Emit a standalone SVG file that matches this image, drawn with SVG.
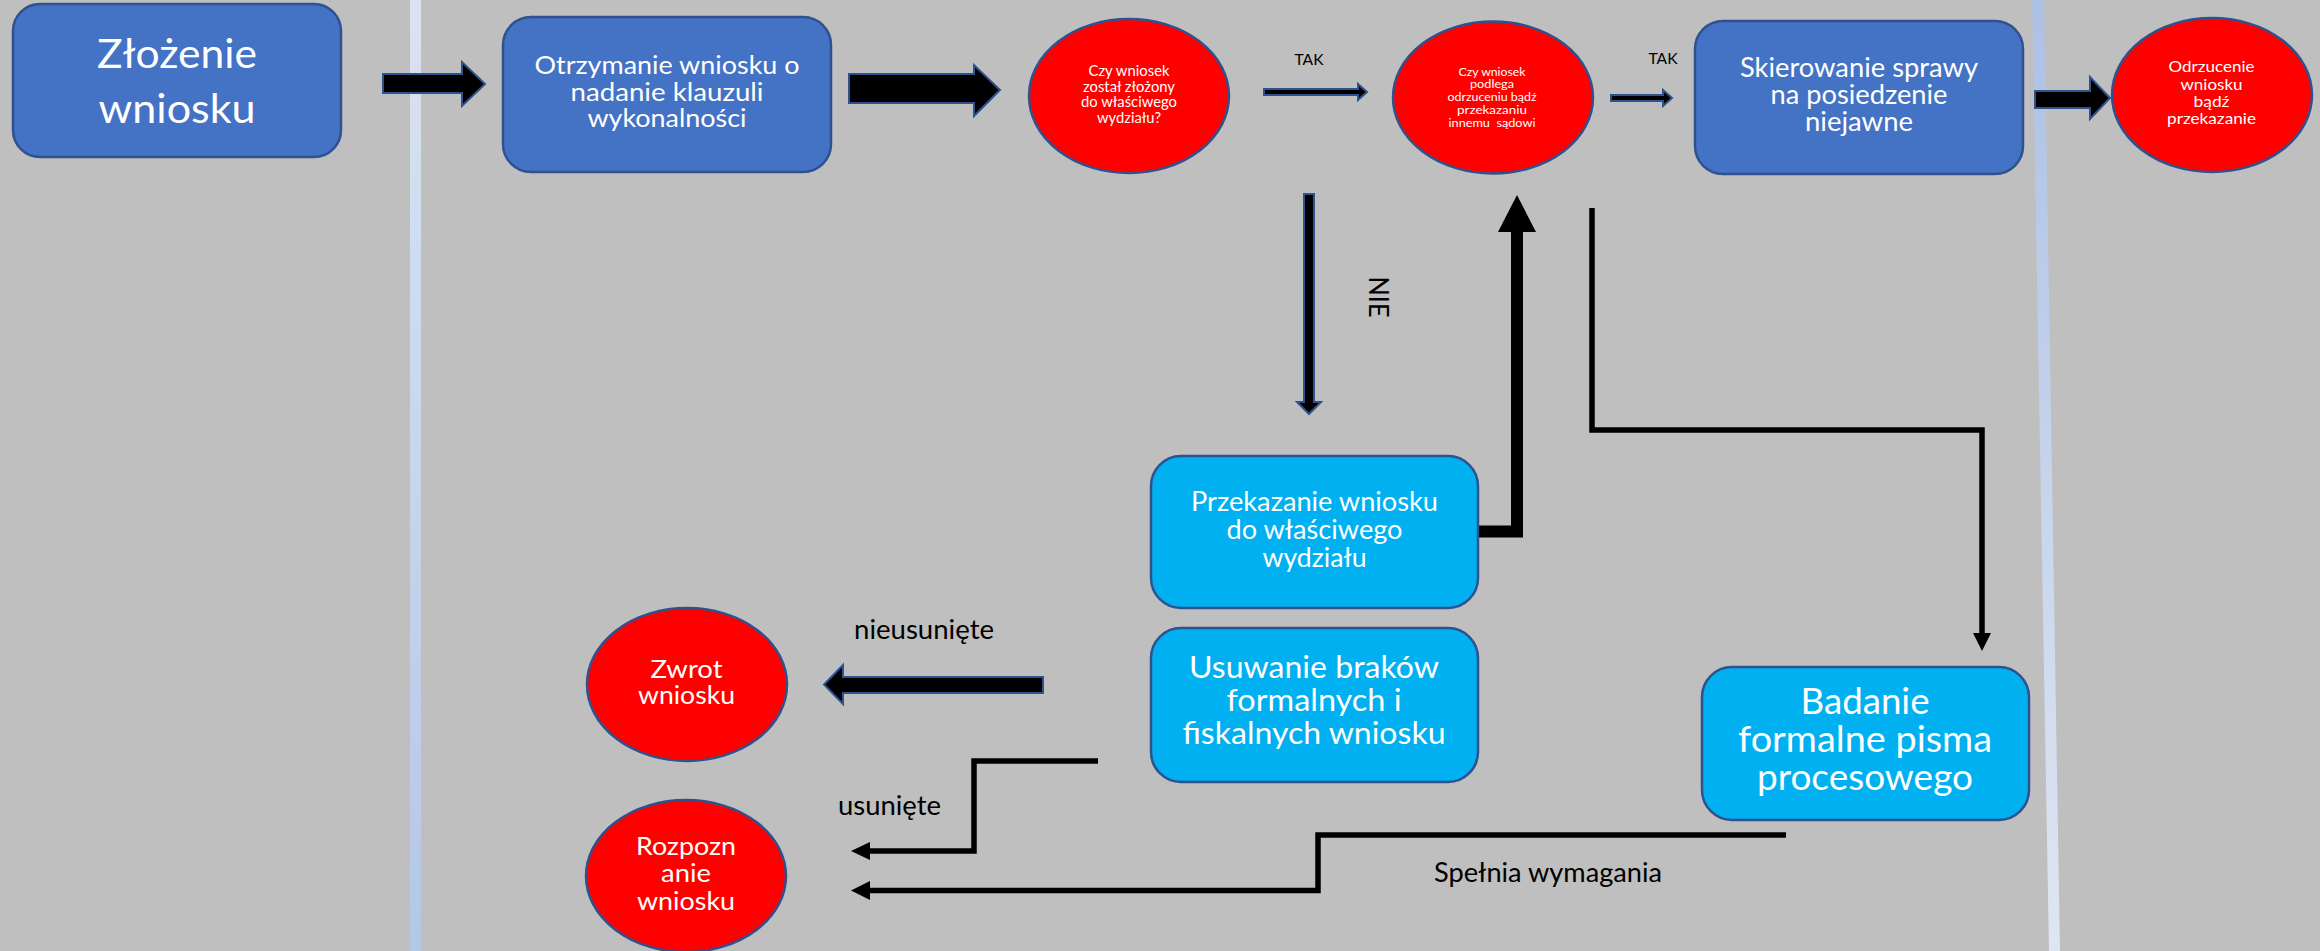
<svg xmlns="http://www.w3.org/2000/svg" width="2320" height="951" viewBox="0 0 2320 951">
<style>
.bx{fill:#4472c4;stroke:#2f528f;stroke-width:2.5}
.lb{fill:#00b0f0;stroke:#2f528f;stroke-width:2.5}
.el{fill:#ff0000;stroke:#2f528f;stroke-width:2.5}
.ba{fill:#000;stroke:#2f528f;stroke-width:2;stroke-linejoin:miter}
.ln{fill:none;stroke:#000;stroke-linejoin:miter}
.hd{fill:#000}
text{font-family:Lato,"Open Sans","Liberation Sans",sans-serif;text-anchor:middle}
.w{fill:#fff}
.k{fill:#000}
</style>
<defs>
<linearGradient id="gl" x1="0" y1="0" x2="0" y2="1">
<stop offset="0" stop-color="#dae3f3"/>
<stop offset="1" stop-color="#b4c7e7"/>
</linearGradient>
<linearGradient id="gr" x1="0" y1="0" x2="0" y2="1">
<stop offset="0" stop-color="#adc1e5"/>
<stop offset="1" stop-color="#dfe6f2"/>
</linearGradient>
</defs>
<rect x="0" y="0" width="2320" height="951" fill="#bfbfbf"/>
<rect x="410" y="0" width="11" height="951" fill="url(#gl)"/>
<polygon points="2032,0 2044,0 2060,951 2049,951" fill="url(#gr)"/>

<g id="connectors">
<polygon class="ba" points="383,74 462,74 462,62 485,84 462,106 462,93 383,93"/>
<polygon class="ba" points="849,74 974,74 974,65 1000,90 974,116 974,103 849,103"/>
<polygon class="ba" points="1264,89 1358,89 1358,84 1367,92 1358,100 1358,95 1264,95"/>
<polygon class="ba" points="1611,95 1663,95 1663,90 1672,98 1663,106 1663,101 1611,101"/>
<polygon class="ba" points="2035,91 2090,91 2090,77 2110,98 2090,119 2090,108 2035,108"/>
<polygon class="ba" points="1304,194 1314,194 1314,402 1321,402 1309,414 1297,402 1304,402"/>
<polygon class="ba" points="1043,677 843,677 843,665 824,684.5 843,704 843,693 1043,693"/>
<path class="ln" d="M1478,531.5 H1517 V230" stroke-width="12"/>
<polygon class="hd" points="1498,232 1517,195 1536,232"/>
<path class="ln" d="M1592,208 V430 H1982 V634" stroke-width="5.5"/>
<polygon class="hd" points="1973,633 1991,633 1982,651"/>
<path class="ln" d="M1098,761 H974 V851 H868" stroke-width="5.5"/>
<polygon class="hd" points="870,842 870,860 851,851"/>
<path class="ln" d="M1786,835 H1318 V890.5 H868" stroke-width="5.5"/>
<polygon class="hd" points="870,881 870,900 851,890.5"/>
</g>

<g id="labels">
<text class="k" x="1309" y="65" font-size="16" textLength="29" lengthAdjust="spacingAndGlyphs">TAK</text>
<text class="k" x="1663" y="64" font-size="16" textLength="29" lengthAdjust="spacingAndGlyphs">TAK</text>
<text class="k" transform="translate(1369,297) rotate(90)" x="0" y="0" font-size="26" textLength="41" lengthAdjust="spacingAndGlyphs">NIE</text>
<text class="k" x="924" y="639" font-size="26" textLength="140" lengthAdjust="spacingAndGlyphs">nieusunięte</text>
<text class="k" x="889.5" y="815" font-size="26" textLength="103" lengthAdjust="spacingAndGlyphs">usunięte</text>
<text class="k" x="1548" y="882" font-size="26" textLength="228" lengthAdjust="spacingAndGlyphs">Spełnia wymagania</text>
</g>

<g id="n-zlozenie">
<rect class="bx" x="13" y="4" width="328" height="153" rx="27"/>
<text class="w" x="177" y="68" font-size="41" textLength="160" lengthAdjust="spacingAndGlyphs">Złożenie</text>
<text class="w" x="177" y="123" font-size="41" textLength="157" lengthAdjust="spacingAndGlyphs">wniosku</text>
</g>

<g id="n-otrzymanie">
<rect class="bx" x="503" y="17" width="328" height="155" rx="28"/>
<text class="w" x="667" y="74" font-size="25" textLength="265" lengthAdjust="spacingAndGlyphs">Otrzymanie wniosku o</text>
<text class="w" x="667" y="100.5" font-size="25" textLength="193" lengthAdjust="spacingAndGlyphs">nadanie klauzuli</text>
<text class="w" x="667" y="127" font-size="25" textLength="159" lengthAdjust="spacingAndGlyphs">wykonalności</text>
</g>

<g id="n-czy-wydzial">
<ellipse class="el" cx="1129" cy="96" rx="100" ry="77"/>
<text class="w" x="1129" y="76" font-size="14.5" textLength="81" lengthAdjust="spacingAndGlyphs">Czy wniosek</text>
<text class="w" x="1129" y="91.7" font-size="14.5" textLength="92" lengthAdjust="spacingAndGlyphs">został złożony</text>
<text class="w" x="1129" y="107.3" font-size="14.5" textLength="96" lengthAdjust="spacingAndGlyphs">do właściwego</text>
<text class="w" x="1129" y="123" font-size="14.5" textLength="64" lengthAdjust="spacingAndGlyphs">wydziału?</text>
</g>

<g id="n-czy-odrzucenie">
<ellipse class="el" cx="1493" cy="97.5" rx="100" ry="76"/>
<text class="w" x="1492" y="76" font-size="12" textLength="67" lengthAdjust="spacingAndGlyphs">Czy wniosek</text>
<text class="w" x="1492" y="87.5" font-size="12" textLength="44" lengthAdjust="spacingAndGlyphs">podlega</text>
<text class="w" x="1492" y="100.5" font-size="12" textLength="89" lengthAdjust="spacingAndGlyphs">odrzuceniu bądź</text>
<text class="w" x="1492" y="113.5" font-size="12" textLength="70" lengthAdjust="spacingAndGlyphs">przekazaniu</text>
<text class="w" x="1492" y="126.5" font-size="12" textLength="87" lengthAdjust="spacingAndGlyphs" xml:space="preserve">innemu  sądowi</text>
</g>

<g id="n-skierowanie">
<rect class="bx" x="1695" y="21" width="328" height="153" rx="28"/>
<text class="w" x="1859" y="77" font-size="26" textLength="238" lengthAdjust="spacingAndGlyphs">Skierowanie sprawy</text>
<text class="w" x="1859" y="104" font-size="26" textLength="177" lengthAdjust="spacingAndGlyphs">na posiedzenie</text>
<text class="w" x="1859" y="131" font-size="26" textLength="108" lengthAdjust="spacingAndGlyphs">niejawne</text>
</g>

<g id="n-odrzucenie">
<ellipse class="el" cx="2212" cy="95" rx="100" ry="77"/>
<text class="w" x="2211.5" y="72" font-size="16" textLength="86" lengthAdjust="spacingAndGlyphs">Odrzucenie</text>
<text class="w" x="2211.5" y="90" font-size="16" textLength="62" lengthAdjust="spacingAndGlyphs">wniosku</text>
<text class="w" x="2211.5" y="107" font-size="16" textLength="36" lengthAdjust="spacingAndGlyphs">bądź</text>
<text class="w" x="2211.5" y="123.5" font-size="16" textLength="89" lengthAdjust="spacingAndGlyphs">przekazanie</text>
</g>

<g id="n-przekazanie">
<rect class="lb" x="1151" y="456" width="327" height="152" rx="30"/>
<text class="w" x="1314.5" y="510.5" font-size="26" textLength="247" lengthAdjust="spacingAndGlyphs">Przekazanie wniosku</text>
<text class="w" x="1314.5" y="538.5" font-size="26" textLength="176" lengthAdjust="spacingAndGlyphs">do właściwego</text>
<text class="w" x="1314.5" y="566.5" font-size="26" textLength="104" lengthAdjust="spacingAndGlyphs">wydziału</text>
</g>

<g id="n-usuwanie">
<rect class="lb" x="1151" y="628" width="327" height="154" rx="30"/>
<text class="w" x="1314" y="678" font-size="31" textLength="250" lengthAdjust="spacingAndGlyphs">Usuwanie braków</text>
<text class="w" x="1314" y="711" font-size="31" textLength="175" lengthAdjust="spacingAndGlyphs">formalnych i</text>
<text class="w" x="1314" y="744" font-size="31" textLength="263" lengthAdjust="spacingAndGlyphs">fiskalnych wniosku</text>
</g>

<g id="n-badanie">
<rect class="lb" x="1702" y="667" width="327" height="153" rx="30"/>
<text class="w" x="1865" y="714" font-size="36" textLength="129" lengthAdjust="spacingAndGlyphs">Badanie</text>
<text class="w" x="1865" y="752" font-size="36" textLength="254" lengthAdjust="spacingAndGlyphs">formalne pisma</text>
<text class="w" x="1865" y="790" font-size="36" textLength="216" lengthAdjust="spacingAndGlyphs">procesowego</text>
</g>

<g id="n-zwrot">
<ellipse class="el" cx="687" cy="684.5" rx="100" ry="76.5"/>
<text class="w" x="686.5" y="678" font-size="25" textLength="72" lengthAdjust="spacingAndGlyphs">Zwrot</text>
<text class="w" x="686.5" y="704" font-size="25" textLength="97" lengthAdjust="spacingAndGlyphs">wniosku</text>
</g>

<g id="n-rozpoznanie">
<ellipse class="el" cx="686" cy="876" rx="100" ry="76"/>
<text class="w" x="686" y="855" font-size="25" textLength="100" lengthAdjust="spacingAndGlyphs">Rozpozn</text>
<text class="w" x="686" y="882" font-size="25" textLength="50" lengthAdjust="spacingAndGlyphs">anie</text>
<text class="w" x="686" y="910" font-size="25" textLength="98" lengthAdjust="spacingAndGlyphs">wniosku</text>
</g>
</svg>
